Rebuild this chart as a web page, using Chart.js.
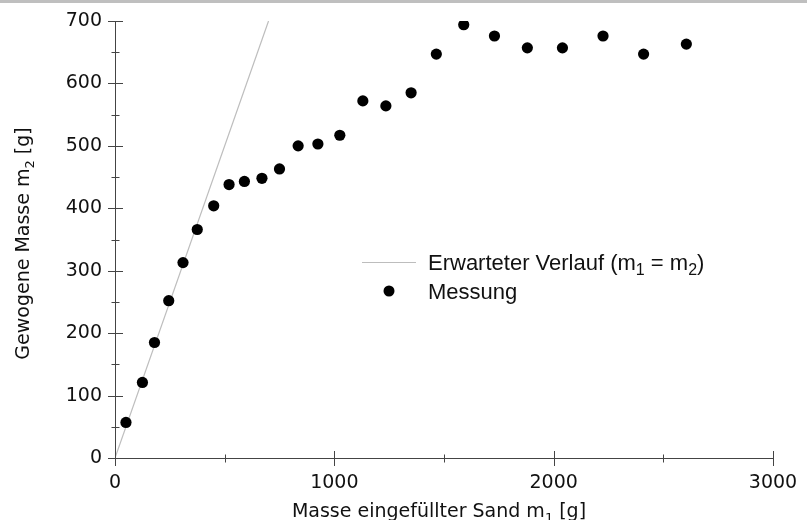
<!DOCTYPE html>
<html>
<head>
<meta charset="utf-8">
<script src="https://cdn.jsdelivr.net/npm/chart.js@4"></script>
<style>
  html, body { margin: 0; padding: 0; background: #fff; }
  #wrap { position: relative; width: 807px; height: 520px; }
  #bar { position: absolute; left: 0; top: 0; width: 807px; height: 3px; background: #bfbfbf; }
</style>
</head>
<body>
<div id="wrap">
  <canvas id="c" width="807" height="520"></canvas>
  <div id="bar"></div>
</div>
<script>
// ---- data ----
const massFilled  = [50, 125, 180, 245, 310, 375, 450, 520, 590, 670, 750, 835, 925, 1025, 1130, 1235, 1350, 1465, 1590, 1730, 1880, 2040, 2225, 2410, 2605];
const massWeighed = [57, 121, 185, 252, 313, 366, 404, 438, 443, 448, 463, 500, 503, 517, 572, 564, 585, 647, 694, 676, 657, 657, 676, 647, 663];
const expectedX = [0, 700];
const expectedY = [0, 700];
const xTicks = [0, 1000, 2000, 3000];
const xMinorTicks = [500, 1500, 2500];
const yTicks = [0, 100, 200, 300, 400, 500, 600, 700];
const yMinorTicks = [50, 150, 250, 350, 450, 550, 650];
const legendLabels = ['Erwarteter Verlauf', 'Messung'];

const TXT = '#111';
const AXIS = '#444';
const EXPECT = '#bdbdbd';

function drawSubText(ctx, parts, x, y, font, subFont, align) {
  let total = 0;
  const widths = parts.map(p => { ctx.font = p[1] ? subFont : font; const w = ctx.measureText(p[0]).width; total += w; return w; });
  let cx = align === 'center' ? x - total / 2 : x;
  ctx.textAlign = 'left';
  ctx.textBaseline = 'alphabetic';
  parts.forEach((p, i) => {
    ctx.font = p[1] ? subFont : font;
    ctx.fillText(p[0], cx, p[1] ? y + 5 : y);
    cx += widths[i];
  });
}

const decor = {
  id: 'decor',
  afterDraw(chart) {
    const ctx = chart.ctx;
    const xs = chart.scales.x, ys = chart.scales.y;
    const area = chart.chartArea;
    ctx.save();
    // tick marks crossing the axes
    ctx.strokeStyle = AXIS;
    ctx.lineWidth = 1;
    ctx.beginPath();
    const ax = Math.round(xs.getPixelForValue(0)) + 0.5;
    const ay = Math.round(ys.getPixelForValue(0)) + 0.5;
    xTicks.forEach(v => { const p = Math.round(xs.getPixelForValue(v)) + 0.5; ctx.moveTo(p, ay - 7.5); ctx.lineTo(p, ay + 7.5); });
    xMinorTicks.forEach(v => { const p = Math.round(xs.getPixelForValue(v)) + 0.5; ctx.moveTo(p, ay - 4); ctx.lineTo(p, ay + 4); });
    yTicks.forEach(v => { const p = Math.round(ys.getPixelForValue(v)) + 0.5; ctx.moveTo(ax - 7.5, p); ctx.lineTo(ax + 7.5, p); });
    yMinorTicks.forEach(v => { const p = Math.round(ys.getPixelForValue(v)) + 0.5; ctx.moveTo(ax - 4, p); ctx.lineTo(ax + 4, p); });
    ctx.stroke();

    // axis titles
    ctx.fillStyle = TXT;
    const tf = '19px "DejaVu Sans"', tsf = '13px "DejaVu Sans"';
    drawSubText(ctx, [['Masse eingefüllter Sand m', false], ['1', true], [' [g]', false]],
      (area.left + area.right) / 2 - 5, 517, tf, tsf, 'center');
    ctx.save();
    ctx.translate(29, (area.top + area.bottom) / 2 + 4);
    ctx.rotate(-Math.PI / 2);
    drawSubText(ctx, [['Gewogene Masse m', false], ['2', true], [' [g]', false]], 0, 0, tf, tsf, 'center');
    ctx.restore();

    // legend
    const lx = area.left + 247, ly = area.top + 241;
    ctx.strokeStyle = EXPECT;
    ctx.lineWidth = 1.2;
    ctx.beginPath();
    ctx.moveTo(lx, ly + 0.5); ctx.lineTo(lx + 54, ly + 0.5);
    ctx.stroke();
    ctx.fillStyle = '#000';
    ctx.beginPath();
    ctx.arc(lx + 27, ly + 29, 5.5, 0, Math.PI * 2);
    ctx.fill();
    const lf = '22px "Liberation Sans"', lsf = '16px "Liberation Sans"';
    ctx.fillStyle = TXT;
    drawSubText(ctx, [[legendLabels[0] + ' (m', false], ['1', true], [' = m', false], ['2', true], [')', false]],
      lx + 66, ly + 8, lf, lsf, 'left');
    drawSubText(ctx, [[legendLabels[1], false]], lx + 66, ly + 37, lf, lsf, 'left');
    ctx.restore();
  }
};

new Chart(document.getElementById('c'), {
  type: 'scatter',
  data: {
    datasets: [
      {
        label: legendLabels[0],
        data: expectedX.map((x, i) => ({ x, y: expectedY[i] })),
        showLine: true,
        borderColor: EXPECT,
        borderWidth: 1.2,
        pointRadius: 0,
        order: 2
      },
      {
        label: legendLabels[1],
        data: massFilled.map((x, i) => ({ x, y: massWeighed[i] })),
        backgroundColor: '#000',
        borderWidth: 0,
        pointRadius: 5.6,
        order: 1
      }
    ]
  },
  options: {
    responsive: false,
    animation: false,
    events: [],
    layout: { padding: { left: 0, top: 21, right: 34, bottom: 0 } },
    plugins: { legend: { display: false }, tooltip: { enabled: false } },
    scales: {
      x: {
        type: 'linear', min: 0, max: 3000,
        afterFit(s) { s.height = 62; s.paddingLeft = 0; s.paddingRight = 0; },
        afterBuildTicks(s) { s.ticks = xTicks.map(v => ({ value: v })); },
        grid: { display: false, drawTicks: false },
        border: { display: true, color: AXIS, width: 1 },
        ticks: { color: TXT, font: { family: 'DejaVu Sans', size: 19 }, padding: 14, maxRotation: 0,
                 callback: v => String(v) }
      },
      y: {
        type: 'linear', min: 0, max: 700,
        afterFit(s) { s.width = 115; s.paddingTop = 0; s.paddingBottom = 0; },
        afterBuildTicks(s) { s.ticks = yTicks.map(v => ({ value: v })); },
        grid: { display: false, drawTicks: false },
        border: { display: true, color: AXIS, width: 1 },
        ticks: { color: TXT, font: { family: 'DejaVu Sans', size: 19 }, padding: 13,
                 callback: v => String(v) }
      }
    }
  },
  plugins: [decor]
});
</script>
</body>
</html>
